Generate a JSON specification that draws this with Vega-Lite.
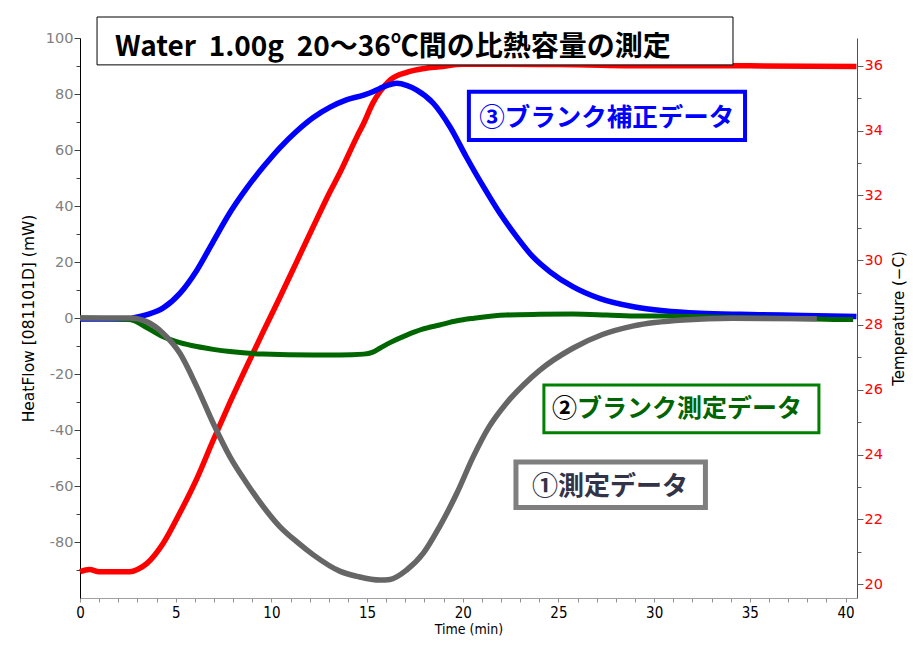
{
  "$schema": "https://vega.github.io/schema/vega-lite/v6.json",
  "width": 777,
  "height": 560,
  "autosize": {"type": "none"},
  "padding": {"left": 80, "top": 38, "right": 56, "bottom": 50},
  "background": "white",
  "config": {"view": {"stroke": null}, "axis": {"grid": false}},
  "datasets": {
    "flow": [
      {"s": "blue", "t": 0, "hf": -0.4}, {"s": "blue", "t": 1, "hf": -0.4}, {"s": "blue", "t": 2, "hf": -0.4},
      {"s": "blue", "t": 2.6, "hf": -0.3}, {"s": "blue", "t": 2.78, "hf": 0}, {"s": "blue", "t": 3.5, "hf": 1.2},
      {"s": "blue", "t": 4.35, "hf": 3.6}, {"s": "blue", "t": 5.22, "hf": 8.8}, {"s": "blue", "t": 6.1, "hf": 17},
      {"s": "blue", "t": 6.96, "hf": 27.3}, {"s": "blue", "t": 7.83, "hf": 37.6}, {"s": "blue", "t": 8.71, "hf": 46.4},
      {"s": "blue", "t": 9.58, "hf": 54}, {"s": "blue", "t": 10.44, "hf": 60.8}, {"s": "blue", "t": 11.32, "hf": 66.7},
      {"s": "blue", "t": 12.19, "hf": 71.6}, {"s": "blue", "t": 13.07, "hf": 75.3}, {"s": "blue", "t": 13.92, "hf": 77.9},
      {"s": "blue", "t": 14.82, "hf": 79.6}, {"s": "blue", "t": 15.3, "hf": 80.8}, {"s": "blue", "t": 15.67, "hf": 82},
      {"s": "blue", "t": 16.1, "hf": 83.2}, {"s": "blue", "t": 16.55, "hf": 83.8}, {"s": "blue", "t": 17.1, "hf": 83},
      {"s": "blue", "t": 17.6, "hf": 81.4}, {"s": "blue", "t": 18.46, "hf": 76.7}, {"s": "blue", "t": 19.33, "hf": 68.3},
      {"s": "blue", "t": 20.18, "hf": 57.6}, {"s": "blue", "t": 21.08, "hf": 46.9}, {"s": "blue", "t": 21.94, "hf": 37.4},
      {"s": "blue", "t": 22.82, "hf": 29}, {"s": "blue", "t": 23.66, "hf": 21.9}, {"s": "blue", "t": 24.56, "hf": 16.5},
      {"s": "blue", "t": 25.75, "hf": 11.2}, {"s": "blue", "t": 27.14, "hf": 7}, {"s": "blue", "t": 28.93, "hf": 4.0},
      {"s": "blue", "t": 30.5, "hf": 2.6}, {"s": "blue", "t": 32.41, "hf": 1.7}, {"s": "blue", "t": 34.5, "hf": 1.3},
      {"s": "blue", "t": 36.69, "hf": 1.07}, {"s": "blue", "t": 38.5, "hf": 0.8}, {"s": "blue", "t": 40.57, "hf": 0.5},

      {"s": "green", "t": 0, "hf": 0}, {"s": "green", "t": 2.6, "hf": -0.5}, {"s": "green", "t": 3.5, "hf": -3.5},
      {"s": "green", "t": 4.35, "hf": -6.7}, {"s": "green", "t": 5.22, "hf": -8.8}, {"s": "green", "t": 6.1, "hf": -10.2},
      {"s": "green", "t": 6.96, "hf": -11.2}, {"s": "green", "t": 7.83, "hf": -12}, {"s": "green", "t": 9.58, "hf": -12.9},
      {"s": "green", "t": 12.19, "hf": -13.2}, {"s": "green", "t": 13.58, "hf": -13.2}, {"s": "green", "t": 14.82, "hf": -12.9},
      {"s": "green", "t": 15.3, "hf": -12.2}, {"s": "green", "t": 15.67, "hf": -10.8}, {"s": "green", "t": 16.2, "hf": -8.8},
      {"s": "green", "t": 17.07, "hf": -6.1}, {"s": "green", "t": 17.9, "hf": -4}, {"s": "green", "t": 18.79, "hf": -2.5},
      {"s": "green", "t": 19.7, "hf": -1.0}, {"s": "green", "t": 20.58, "hf": -0.1}, {"s": "green", "t": 22.27, "hf": 1.07},
      {"s": "green", "t": 24.0, "hf": 1.3}, {"s": "green", "t": 25.75, "hf": 1.4}, {"s": "green", "t": 27.5, "hf": 1.1},
      {"s": "green", "t": 29.23, "hf": 0.7}, {"s": "green", "t": 30.62, "hf": 0.7}, {"s": "green", "t": 33, "hf": 0.4},
      {"s": "green", "t": 36, "hf": 0}, {"s": "green", "t": 39.37, "hf": -0.5}, {"s": "green", "t": 40.4, "hf": -0.5},

      {"s": "gray", "t": 0, "hf": 0}, {"s": "gray", "t": 2.6, "hf": 0}, {"s": "gray", "t": 3.48, "hf": -1.3},
      {"s": "gray", "t": 4.35, "hf": -5.5}, {"s": "gray", "t": 5.22, "hf": -12.6}, {"s": "gray", "t": 6.1, "hf": -24.5},
      {"s": "gray", "t": 6.96, "hf": -37.6}, {"s": "gray", "t": 7.83, "hf": -49.5}, {"s": "gray", "t": 8.71, "hf": -59},
      {"s": "gray", "t": 9.58, "hf": -67.4}, {"s": "gray", "t": 10.44, "hf": -74.5}, {"s": "gray", "t": 11.32, "hf": -79.9},
      {"s": "gray", "t": 12.19, "hf": -84.6}, {"s": "gray", "t": 13.6, "hf": -90.5}, {"s": "gray", "t": 14.5, "hf": -92.3},
      {"s": "gray", "t": 15.67, "hf": -93.6}, {"s": "gray", "t": 16.2, "hf": -93.4}, {"s": "gray", "t": 17.07, "hf": -90},
      {"s": "gray", "t": 17.94, "hf": -84}, {"s": "gray", "t": 18.79, "hf": -74.5}, {"s": "gray", "t": 19.69, "hf": -62.6},
      {"s": "gray", "t": 20.55, "hf": -49.5}, {"s": "gray", "t": 21.38, "hf": -38.8}, {"s": "gray", "t": 22.27, "hf": -30.5},
      {"s": "gray", "t": 23.17, "hf": -23.9}, {"s": "gray", "t": 24.03, "hf": -18.6}, {"s": "gray", "t": 25.75, "hf": -10.8},
      {"s": "gray", "t": 27.3, "hf": -5.9}, {"s": "gray", "t": 28.93, "hf": -2.8}, {"s": "gray", "t": 31.52, "hf": -0.7},
      {"s": "gray", "t": 34.1, "hf": -0.1}, {"s": "gray", "t": 38.5, "hf": -0.3}
    ],
    "temp": [
      {"t": 0, "temp": 20.38}, {"t": 0.5, "temp": 20.45}, {"t": 1.0, "temp": 20.38}, {"t": 2.6, "temp": 20.38},
      {"t": 3.0, "temp": 20.45}, {"t": 3.5, "temp": 20.64}, {"t": 4.35, "temp": 21.26}, {"t": 5.22, "temp": 22.2},
      {"t": 6.1, "temp": 23.25}, {"t": 6.96, "temp": 24.44}, {"t": 7.83, "temp": 25.6}, {"t": 8.71, "temp": 26.72},
      {"t": 9.58, "temp": 27.8}, {"t": 10.44, "temp": 28.85}, {"t": 11.32, "temp": 29.95}, {"t": 12.2, "temp": 31.05},
      {"t": 13.07, "temp": 32.12}, {"t": 13.58, "temp": 32.7}, {"t": 14.46, "temp": 33.8}, {"t": 14.82, "temp": 34.22},
      {"t": 15.3, "temp": 34.85}, {"t": 15.67, "temp": 35.2}, {"t": 16.2, "temp": 35.56}, {"t": 17.07, "temp": 35.8},
      {"t": 18.0, "temp": 35.92}, {"t": 18.79, "temp": 35.97}, {"t": 20, "temp": 36.05}, {"t": 25, "temp": 36.04},
      {"t": 30, "temp": 36.0}, {"t": 35, "temp": 36.0}, {"t": 40.57, "temp": 35.98}
    ],
    "boxes": [
      {"id": "title", "t": 0.89, "t2": 34.12, "hf": 107.5, "hf2": 90.4},
      {"id": "blue", "t": 20.32, "t2": 34.75, "hf": 80.8, "hf2": 63.6},
      {"id": "green", "t": 24.24, "t2": 38.61, "hf": -23.9, "hf2": -41},
      {"id": "gray", "t": 22.78, "t2": 32.68, "hf": -51.4, "hf2": -67.7}
    ],
    "labels": [
      {"id": "title", "t": 1.83, "hf": 96.6, "label": "Water\u00a0 1.00g\u00a0 20〜36℃間の比熱容量の測定"},
      {"id": "blue", "t": 27.53, "hf": 71.5, "label": "③ブランク補正データ"},
      {"id": "greennum", "t": 25.97, "hf": -32.6, "label": "②"},
      {"id": "green", "t": 25.97, "hf": -32.6, "label": "ブランク測定データ"},
      {"id": "gray", "t": 27.69, "hf": -60.5, "label": "①測定データ"}
    ]
  },
  "encoding": {
    "x": {
      "field": "t", "type": "quantitative",
      "scale": {"domain": [0, 40.6], "nice": false, "zero": false},
      "axis": {
        "title": "Time (min)",
        "values": [0,1,2,3,4,5,6,7,8,9,10,11,12,13,14,15,16,17,18,19,20,21,22,23,24,25,26,27,28,29,30,31,32,33,34,35,36,37,38,39,40],
        "labelExpr": "datum.value % 5 === 0 ? '' + datum.value : ''",
        "labelOverlap": false, "labelFlush": false,
        "labelFont": "DejaVu Sans Condensed", "labelFontSize": 15, "labelColor": "#000000",
        "labelPadding": 3, "tickSize": 4, "tickColor": "#909090", "domainColor": "#a0a0a0",
        "titleFont": "DejaVu Sans Condensed", "titleFontSize": 14, "titleFontWeight": "normal",
        "titleColor": "#000000", "titlePadding": 2
      }
    }
  },
  "layer": [
    {
      "data": {"name": "temp"},
      "mark": {"type": "line", "color": "#ff0000", "strokeWidth": 5.5, "interpolate": "monotone"},
      "encoding": {
        "y": {
          "field": "temp", "type": "quantitative",
          "scale": {"domain": [19.57, 36.86], "nice": false, "zero": false},
          "axis": {
            "orient": "right",
            "title": "Temperature (−C)",
            "values": [20,21,22,23,24,25,26,27,28,29,30,31,32,33,34,35,36],
            "labelExpr": "datum.value % 2 === 0 ? '' + datum.value : ''",
            "labelOverlap": false, "labelFlush": false,
            "labelFont": "DejaVu Sans", "labelFontSize": 14.5, "labelColor": "#ff0000",
            "labelPadding": 1,
            "tickSize": {"condition": {"test": "datum.value % 2 === 0", "value": 6}, "value": 4},
            "tickColor": "#606060", "domainColor": "#505050",
            "titleFont": "DejaVu Sans", "titleFontSize": 15, "titleFontWeight": "normal",
            "titleColor": "#000000", "titlePadding": 9, "titleAngle": 270, "titleBaseline": "top"
          }
        }
      }
    },
    {
      "encoding": {
        "y": {
          "field": "hf", "type": "quantitative",
          "scale": {"domain": [-100, 100], "nice": false, "zero": false},
          "axis": {
            "orient": "left",
            "title": "HeatFlow [081101D] (mW)",
            "values": [-90,-80,-70,-60,-50,-40,-30,-20,-10,0,10,20,30,40,50,60,70,80,90,100],
            "labelExpr": "datum.value % 20 === 0 ? '' + datum.value : ''",
            "labelOverlap": false, "labelFlush": false,
            "labelFont": "DejaVu Sans", "labelFontSize": 14.5, "labelColor": "#808080",
            "labelPadding": 1,
            "tickSize": {"condition": {"test": "datum.value % 20 === 0", "value": 6}, "value": 4},
            "tickColor": "#404040", "domainColor": "#000000",
            "titleFont": "DejaVu Sans", "titleFontSize": 15.5, "titleFontWeight": "normal",
            "titleColor": "#000000", "titlePadding": 9
          }
        }
      },
      "layer": [
        {
          "data": {"name": "flow"},
          "transform": [{"filter": "datum.s === 'blue'"}],
          "mark": {"type": "line", "color": "#0000ff", "strokeWidth": 5.5, "interpolate": "monotone"},
          "encoding": {}
        },
        {
          "data": {"name": "flow"},
          "transform": [{"filter": "datum.s === 'green'"}],
          "mark": {"type": "line", "color": "#006600", "strokeWidth": 5, "interpolate": "monotone"},
          "encoding": {}
        },
        {
          "data": {"name": "flow"},
          "transform": [{"filter": "datum.s === 'gray'"}],
          "mark": {"type": "line", "color": "#666666", "strokeWidth": 5.5, "interpolate": "monotone"},
          "encoding": {}
        },
        {
          "data": {"name": "boxes"},
          "transform": [{"filter": "datum.id === 'title'"}],
          "mark": {"type": "rect", "fill": "#ffffff", "stroke": "#000000", "strokeWidth": 1},
          "encoding": {"x2": {"field": "t2"}, "y2": {"field": "hf2"}}
        },
        {
          "data": {"name": "boxes"},
          "transform": [{"filter": "datum.id === 'blue'"}],
          "mark": {"type": "rect", "fill": "#ffffff", "stroke": "#0000ff", "strokeWidth": 4},
          "encoding": {"x2": {"field": "t2"}, "y2": {"field": "hf2"}}
        },
        {
          "data": {"name": "boxes"},
          "transform": [{"filter": "datum.id === 'green'"}],
          "mark": {"type": "rect", "fill": "#ffffff", "stroke": "#008000", "strokeWidth": 3},
          "encoding": {"x2": {"field": "t2"}, "y2": {"field": "hf2"}}
        },
        {
          "data": {"name": "boxes"},
          "transform": [{"filter": "datum.id === 'gray'"}],
          "mark": {"type": "rect", "fill": "#ffffff", "stroke": "#7f7f7f", "strokeWidth": 5},
          "encoding": {"x2": {"field": "t2"}, "y2": {"field": "hf2"}}
        },
        {
          "data": {"name": "labels"},
          "transform": [{"filter": "datum.id === 'title'"}],
          "mark": {"type": "text", "font": "Noto Sans CJK JP", "fontSize": 28, "fontWeight": "bold", "color": "#000000", "align": "left", "baseline": "middle"},
          "encoding": {"text": {"field": "label"}}
        },
        {
          "data": {"name": "labels"},
          "transform": [{"filter": "datum.id === 'blue'"}],
          "mark": {"type": "text", "font": "Noto Sans CJK JP", "fontSize": 25.5, "fontWeight": "bold", "color": "#0000ff", "align": "center", "baseline": "middle"},
          "encoding": {"text": {"field": "label"}}
        },
        {
          "data": {"name": "labels"},
          "transform": [{"filter": "datum.id === 'greennum'"}],
          "mark": {"type": "text", "font": "Noto Sans CJK JP", "fontSize": 25, "fontWeight": "bold", "color": "#000000", "align": "right", "baseline": "middle"},
          "encoding": {"text": {"field": "label"}}
        },
        {
          "data": {"name": "labels"},
          "transform": [{"filter": "datum.id === 'green'"}],
          "mark": {"type": "text", "font": "Noto Sans CJK JP", "fontSize": 25, "fontWeight": "bold", "color": "#006400", "align": "left", "baseline": "middle"},
          "encoding": {"text": {"field": "label"}}
        },
        {
          "data": {"name": "labels"},
          "transform": [{"filter": "datum.id === 'gray'"}],
          "mark": {"type": "text", "font": "Noto Sans CJK JP", "fontSize": 26, "fontWeight": "bold", "color": "#333348", "align": "center", "baseline": "middle"},
          "encoding": {"text": {"field": "label"}}
        }
      ]
    }
  ],
  "resolve": {"scale": {"y": "independent"}, "axis": {"y": "independent"}}
}
